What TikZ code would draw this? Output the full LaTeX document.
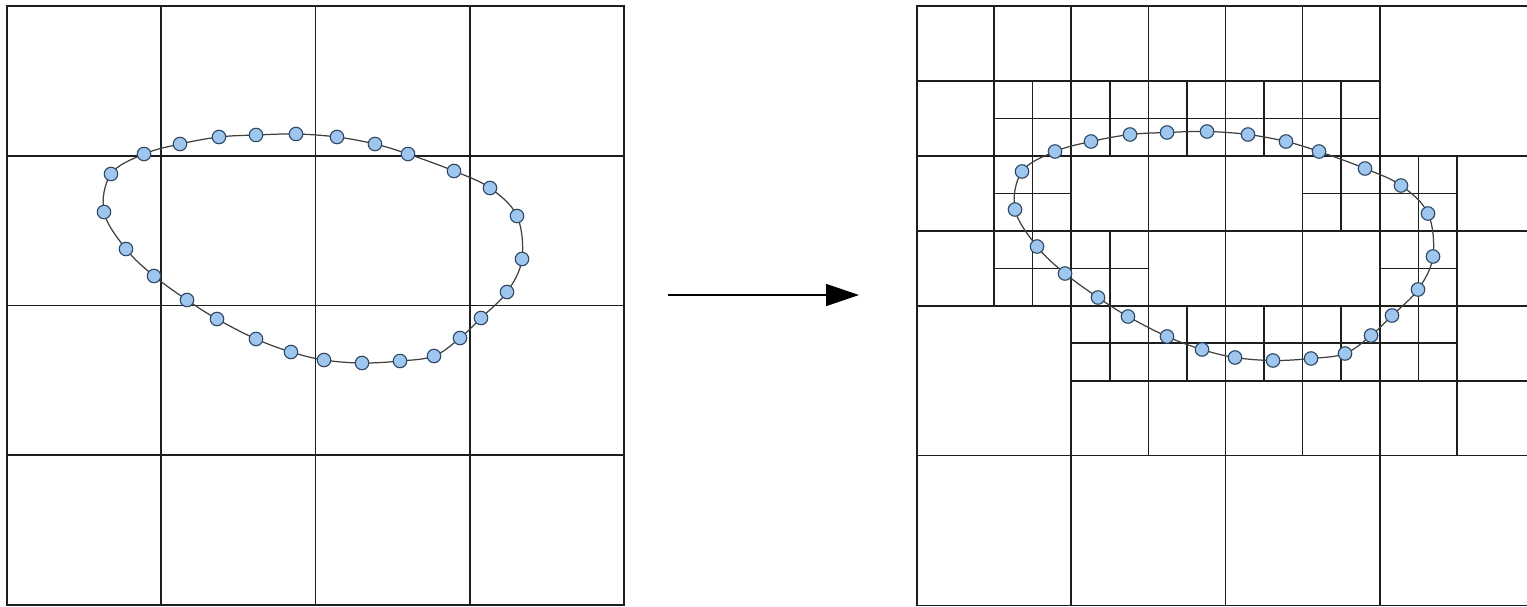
\documentclass[tikz,border=0pt]{standalone}
\usetikzlibrary{arrows.meta}

\definecolor{gridgray}{HTML}{1E1E1E}
\definecolor{ringgray}{HTML}{404040}
\definecolor{dotedge}{HTML}{2F4A66}
\definecolor{dotfill}{HTML}{9FC6EE}

\tikzset{
  gridline/.style={line width=0.9pt, draw=gridgray},
  ring/.style={line width=0.7pt, draw=ringgray},
  sample/.style={circle, draw=dotedge, fill=dotfill, line width=0.65pt,
                 minimum size=0.27cm, inner sep=0pt},
  flow/.style={line width=0.85pt, draw=black,
               -{Triangle[length=0.66cm, width=0.44cm]}}
}

% sample points on the closed curve (pixel-like units)
\def\ringpts{144/154,180/144,219/137,256/135,296/134,337/137,375/144,408/154,
  454/171,490/188,517/216,522/259,507/292,481/318,460/338,434/356,400/361,
  362/363,324/360,291/352,256/339,217/319,187/300,154/276,126/249,104/212,111/174}

\begin{document}
\begin{tikzpicture}[x=0.02cm, y=-0.02cm]
\useasboundingbox (0,0) rectangle (1527,606);
\clip (0,0) rectangle (1527,606);
\fill[white] (0,0) rectangle (1527,606);

% ---- uniform 4x4 grid ----
\begin{scope}[shift={(7,6)}, xscale=154.25, yscale=149.75]
  \foreach \i in {1,2,3} {
    \draw[gridline] (\i,0) -- (\i,4);
    \draw[gridline] (0,\i) -- (4,\i);
  }
  \draw[gridline] (0,0) rectangle (4,4);
\end{scope}

% ---- adaptive (quadtree) grid ----
\begin{scope}[shift={(917,6)}, xscale=38.5625, yscale=37.47]
  % level 0 cells
  \foreach \i in {4,8,12} {
    \draw[gridline] (\i,0) -- (\i,16);
    \draw[gridline] (0,\i) -- (16,\i);
  }
  \draw[gridline] (0,0) rectangle (16,16);
  % level 1 splits
  \foreach \xa/\ya/\xb/\yb in {2/0/2/8, 6/0/6/12, 10/0/10/12, 14/4/14/12,
      0/2/12/2, 0/6/16/6, 4/10/16/10}
    \draw[gridline] (\xa,\ya) -- (\xb,\yb);
  % level 2 splits
  \foreach \xa/\ya/\xb/\yb in {3/2/3/8, 5/2/5/4, 5/6/5/10, 7/2/7/4, 7/8/7/10,
      9/2/9/4, 9/8/9/10, 11/2/11/6, 11/8/11/10, 13/4/13/10,
      2/3/12/3, 2/5/4/5, 10/5/14/5, 2/7/6/7, 12/7/14/7, 4/9/14/9}
    \draw[gridline] (\xa,\ya) -- (\xb,\yb);
\end{scope}

% ---- curve with sample points, before refinement ----
\foreach \px/\py [count=\k] in \ringpts
  \coordinate (cL\k) at (\px,\py);
\draw[ring] plot[smooth cycle, tension=0.6] coordinates {
  (cL1) (cL2) (cL3) (cL4) (cL5) (cL6) (cL7) (cL8) (cL9) (cL10) (cL11) (cL12)
  (cL13) (cL14) (cL15) (cL16) (cL17) (cL18) (cL19) (cL20) (cL21) (cL22) (cL23)
  (cL24) (cL25) (cL26) (cL27)};
\foreach \k in {1,...,27}
  \node[sample] (dL\k) at (cL\k) {};

% ---- same curve on the refined grid ----
\begin{scope}[shift={(911,-2.5)}]
  \foreach \px/\py [count=\k] in \ringpts
    \coordinate (cR\k) at (\px,\py);
\end{scope}
\draw[ring] plot[smooth cycle, tension=0.6] coordinates {
  (cR1) (cR2) (cR3) (cR4) (cR5) (cR6) (cR7) (cR8) (cR9) (cR10) (cR11) (cR12)
  (cR13) (cR14) (cR15) (cR16) (cR17) (cR18) (cR19) (cR20) (cR21) (cR22) (cR23)
  (cR24) (cR25) (cR26) (cR27)};
\foreach \k in {1,...,27}
  \node[sample] (dR\k) at (cR\k) {};

% ---- refinement arrow ----
\coordinate (arrowTail) at (668,295);
\coordinate (arrowTip) at (859,295);
\draw[flow] (arrowTail) -- (arrowTip);
\end{tikzpicture}
\end{document}
